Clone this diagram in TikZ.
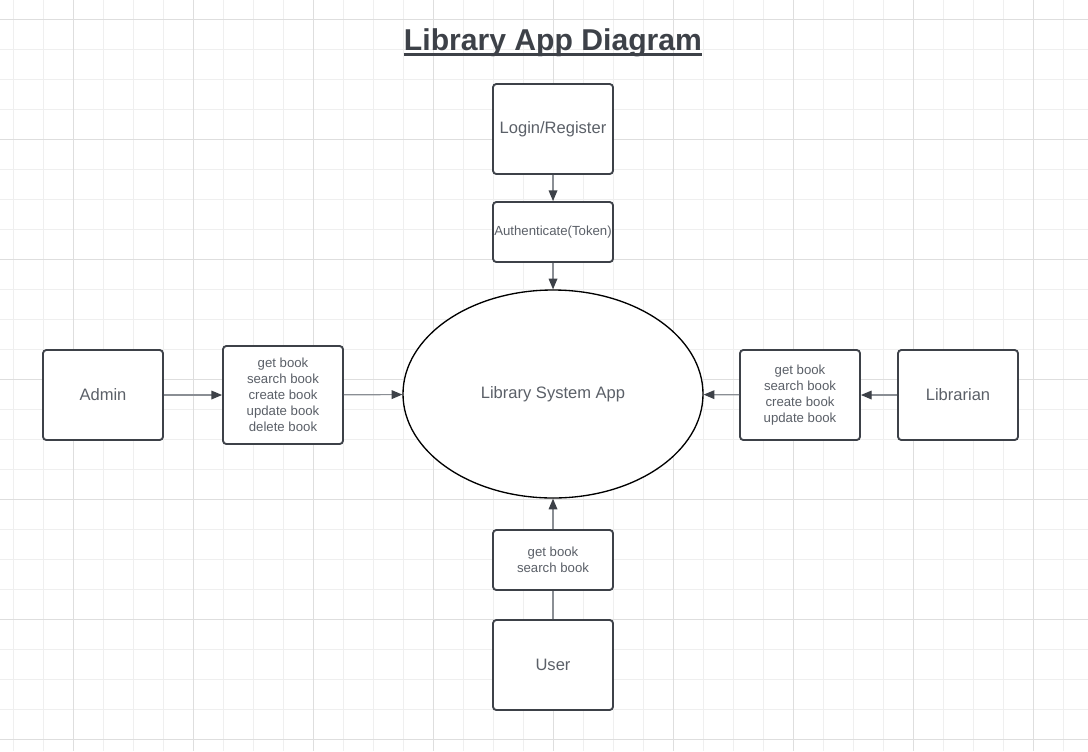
\documentclass[tikz,border=0pt]{standalone}
\usepackage{fontspec}
\setmainfont{Liberation Sans}
\usepackage{xcolor}
\definecolor{Ink}{HTML}{3D4148}
\definecolor{Gray}{HTML}{5B6068}
\definecolor{Wire}{HTML}{8A8E94}
\definecolor{GridMinor}{HTML}{EFEFEF}
\definecolor{GridMajor}{HTML}{DEDEDE}
\usepackage{tikz}
\usetikzlibrary{arrows.meta,shapes.geometric}

\begin{document}
\begin{tikzpicture}[x=0.75pt,y=-0.75pt,
  box/.style={draw=Ink,line width=1.4pt,rounded corners=2.5pt,fill=white,minimum width=90pt,minimum height=67.5pt,inner sep=0pt,align=center,text=Gray,font=\fontsize{12.4}{15}\selectfont},
  ops/.style={box,font=\fontsize{9.9}{12}\selectfont},
  link/.style={draw=Wire,line width=0.9pt,-{Triangle[length=8pt,width=6.5pt,color=Ink]}}]
\useasboundingbox (0,0) rectangle (1088,751);
\fill[white] (0,0) rectangle (1088,751);
% grid paper
\foreach \x in {13,43,...,1088}{\draw[GridMinor,line width=0.75pt] (\x,0) -- (\x,751);}
\foreach \y in {19,49,...,751}{\draw[GridMinor,line width=0.75pt] (0,\y) -- (1088,\y);}
\foreach \x in {73,193,...,1088}{\draw[GridMajor,line width=0.75pt] (\x,0) -- (\x,751);}
\foreach \y in {19,139,...,751}{\draw[GridMajor,line width=0.75pt] (0,\y) -- (1088,\y);}
% title
\node[anchor=base,inner sep=0pt,text=Ink,font=\fontsize{22.6}{26}\selectfont\bfseries] (title) at (553,50) {Library App Diagram};
\draw[Ink,line width=2.4pt] ([yshift=-3.4pt]title.base west) -- ([yshift=-3.4pt]title.base east);
% nodes
\node[box] (login) at (553,129) {Login/Register};
\node[ops,minimum height=45pt] (auth) at (553,232) {Authenticate(Token)};
\node[ellipse,draw=black,line width=1pt,fill=white,minimum width=225pt,minimum height=156pt,text=Gray,font=\fontsize{12.4}{15}\selectfont] (app) at (553,394) {Library System App};
\node[box] (admin) at (103,395) {Admin};
\node[ops,minimum height=73.5pt] (adminops) at (283,395) {get book\\search book\\create book\\update book\\delete book};
\node[ops] (libops) at (800,395) {get book\\search book\\create book\\update book};
\node[box] (librarian) at (958,395) {Librarian};
\node[ops,minimum height=45pt] (userops) at (553,560) {get book\\search book};
\node[box] (user) at (553,665) {User};
% connectors
\draw[link] (login) -- (auth);
\draw[link] (auth) -- (app);
\draw[link] (admin) -- (adminops);
\draw[link] (adminops) -- (app);
\draw[link] (librarian) -- (libops);
\draw[link] (libops) -- (app);
\draw[draw=Wire,line width=0.9pt] (user) -- (userops);
\draw[link] (userops) -- (app);
\end{tikzpicture}
\end{document}
